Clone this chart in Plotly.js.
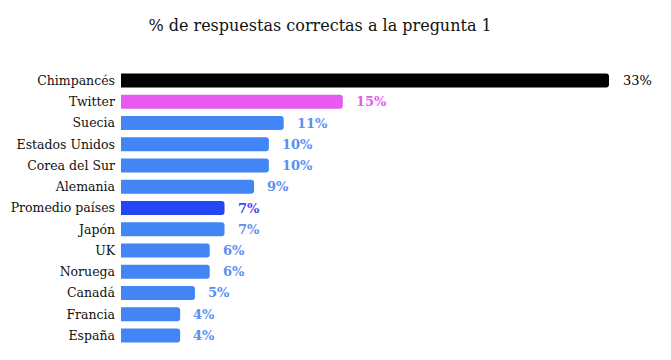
<!DOCTYPE html>
<html>
<head>
<meta charset="utf-8">
<script src="https://cdn.plot.ly/plotly-3.0.1.min.js"></script>
<style>html,body{margin:0;padding:0;background:#fff;}</style>
</head>
<body>
<div id="chart" style="width:671px;height:360px;"></div>
<script>
var categories = ["Chimpancés","Twitter","Suecia","Estados Unidos","Corea del Sur","Alemania","Promedio países","Japón","UK","Noruega","Canadá","Francia","España"];
var values = [33, 15, 11, 10, 10, 9, 7, 7, 6, 6, 5, 4, 4];
var valueLabels = ["33%","15%","11%","10%","10%","9%","7%","7%","6%","6%","5%","4%","4%"];
var barColors = ["#000000","#E858F2","#4285F4","#4285F4","#4285F4","#4285F4","#2346F5","#4285F4","#4285F4","#4285F4","#4285F4","#4285F4","#4285F4"];
var labelColors = ["#000000","#E858F2","#5A8EF0","#5A8EF0","#5A8EF0","#5A8EF0","#4A45F0","#5A8EF0","#5A8EF0","#5A8EF0","#5A8EF0","#5A8EF0","#5A8EF0"];
var labelBold = [false,true,true,true,true,true,true,true,true,true,true,true,true];

var serif = "DejaVu Serif";

var trace = {
  type: "bar",
  orientation: "h",
  y: categories,
  x: values,
  marker: {color: barColors, line: {width: 0}},
  width: 0.66,
  hoverinfo: "none"
};

var annotations = categories.map(function(c, i) {
  return {
    x: values[i], y: c, xref: "x", yref: "y",
    text: labelBold[i] ? "<b>" + valueLabels[i] + "</b>" : valueLabels[i],
    showarrow: false, xanchor: "left", yanchor: "middle",
    xshift: labelBold[i] ? 11 : 12,
    font: {family: serif, size: 13, color: labelColors[i]}
  };
});

var layout = {
  width: 671, height: 360,
  margin: {l: 121, r: 62, t: 70, b: 14},
  paper_bgcolor: "#fff", plot_bgcolor: "#fff",
  title: {text: "% de respuestas correctas a la pregunta 1", x: 0.477, xref: "container", xanchor: "center", y: 0.93, yanchor: "middle",
          font: {family: serif, size: 16, color: "#111"}},
  barcornerradius: 3,
  xaxis: {range: [0, 33], visible: false, fixedrange: true},
  yaxis: {autorange: "reversed", showgrid: false, zeroline: false, showline: false, ticks: "", ticklabelstandoff: 5,
          tickfont: {family: serif, size: 12.5, color: "#111"}},
  annotations: annotations,
  showlegend: false
};

Plotly.newPlot("chart", [trace], layout, {displayModeBar: false, staticPlot: true});
</script>
</body>
</html>
